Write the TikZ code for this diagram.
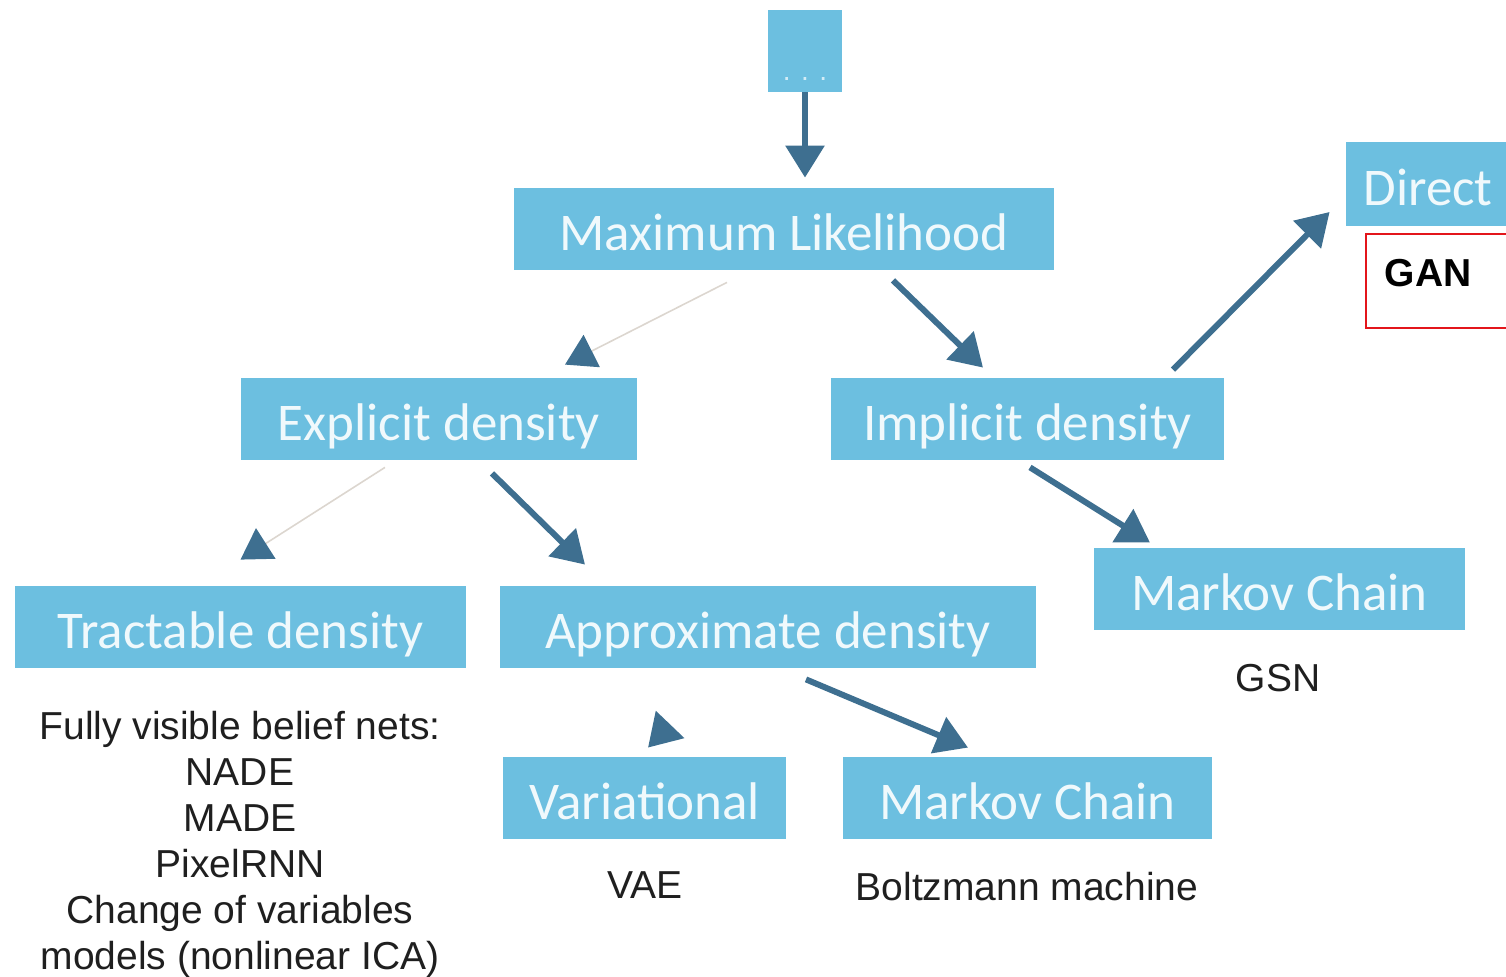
\documentclass[tikz,border=0pt]{standalone}
\usepackage{fontspec}
\setmainfont{Liberation Sans}
\newfontfamily\boxfont{Carlito}
\usetikzlibrary{arrows.meta,calc}
\definecolor{boxblue}{HTML}{6CBFE0}
\definecolor{arrowblue}{HTML}{3E6F90}
\definecolor{faintline}{HTML}{DCD6CF}
\definecolor{ganred}{HTML}{E3151B}
\begin{document}
\begin{tikzpicture}[x=0.5pt,y=-0.5pt,
  box/.style={fill=boxblue, draw=none, inner sep=0pt, minimum height=41pt,
    text=white!90!boxblue, text height=25pt, text depth=3pt,
    font=\boxfont\fontsize{26.5}{30}\selectfont},
  caption/.style={inner sep=0pt, text=black!88, align=center,
    font=\fontsize{19.5}{23}\selectfont},
  strong/.style={draw=arrowblue, line width=3pt, -{Triangle[width=19pt,length=16pt]}},
  faint/.style={draw=faintline, line width=0.8pt, -{Triangle[width=18pt,length=15pt,color=arrowblue]}},
]
\useasboundingbox (0,0) rectangle (1506,977);
\clip (0,0) rectangle (1506,977);

% boxes
\node[box, minimum width=37pt,
  label={[anchor=south, inner sep=0pt, yshift=5.5pt, text=white!70!boxblue,
          font=\fontsize{14}{14}\selectfont]south:. . .}] (dots) at (805,51) {};
\node[box, minimum width=270pt] (max) at (784,229) {Maximum Likelihood};
\node[box, minimum width=82pt, minimum height=42pt] (direct) at (1428,184) {Direct};
\node[box, minimum width=198pt] (explicit) at (439,419) {Explicit density};
\node[box, minimum width=196.5pt] (implicit) at (1027.5,419) {Implicit density};
\node[box, minimum width=225.5pt] (tractable) at (240.5,627) {Tractable density};
\node[box, minimum width=268pt] (approx) at (768,627) {Approximate density};
\node[box, minimum width=185.5pt] (markov1) at (1279.5,589) {Markov Chain};
\node[box, minimum width=141.5pt] (variational) at (644.5,798) {Variational};
\node[box, minimum width=184.5pt] (markov2) at (1027.5,798) {Markov Chain};

% GAN with its red frame
\draw[ganred, line width=1pt] (1366,234) rectangle (1512,328);
\node[caption, font=\bfseries\fontsize{19.5}{23}\selectfont, text=black] (gan) at (1428,273) {GAN};

% model names
\node[caption] (gsn) at (1278,678) {GSN};
\node[caption] (vae) at (645,885) {VAE};
\node[caption] (boltz) at (1027,887) {Boltzmann machine};
\node[caption, anchor=north] (fvbn) at (240,711) {Fully visible belief nets:\\NADE\\MADE\\PixelRNN\\Change of variables\\models (nonlinear ICA)};

% connectors
\draw[strong] (dots.south) -- ($(max.north)+(21,-10)$);
\draw[faint] ($(max.south)+(-57,12)$) -- ($(explicit.north)+(126,-13)$);
\draw[strong] ($(max.south)+(109,10)$) -- ($(implicit.north)+(-44.5,-10)$);
\draw[strong] ($(implicit.north)+(145.5,-8)$) -- ($(direct.west)+(-16,28)$);
\draw[faint] ($(explicit.south)+(-54,7)$) -- ($(tractable.north)+(0,-26)$);
\draw[strong] ($(explicit.south)+(53,13)$) -- ($(approx.north)+(-183,-21)$);
\draw[strong] ($(implicit.south)+(2.5,7)$) -- ($(markov1.north)+(-129.5,-5)$);
\draw[strong] ($(variational.north)+(25.5,-32)$) -- ($(variational.north)+(3.5,-9)$);
\draw[strong] ($(approx.south)+(38,11)$) -- ($(markov2.north)+(-59.5,-9)$);
\end{tikzpicture}
\end{document}
